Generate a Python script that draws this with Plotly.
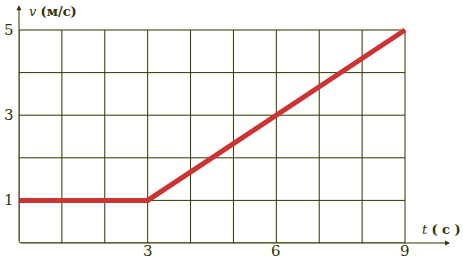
import plotly.graph_objects as go

# data
t_vals = [0, 3, 9]
v_vals = [1, 1, 5]
x_grid = [0, 1, 2, 3, 4, 5, 6, 7, 8, 9]
y_grid = [0, 1, 2, 3, 4, 5]
x_ticks = [3, 6, 9]
y_ticks = [1, 3, 5]

W, H = 463, 259
ml, mb = 19, 16
ux = (405 - 19) / 9.0
uy = (243 - 30) / 5.0
xmax = (W - ml) / ux
ymax = (H - mb) / uy

SERIF = "DejaVu Serif"
grid_col = "#333300"
fig = go.Figure()
shapes = []
for gx in x_grid:
    shapes.append(dict(type="line", xref="x", yref="y", x0=gx, x1=gx, y0=0, y1=5,
                       line=dict(color=grid_col, width=1), layer="below"))
for gy in y_grid:
    shapes.append(dict(type="line", xref="x", yref="y", x0=0, x1=9, y0=gy, y1=gy,
                       line=dict(color=grid_col, width=1), layer="below"))

fig.add_trace(go.Scatter(x=t_vals, y=v_vals, mode="lines",
                         line=dict(color="#cc3333", width=5), hoverinfo="skip"))

annotations = [
    dict(x=10.05, y=0, ax=0, ay=0, xref="x", yref="y", axref="x", ayref="y",
         showarrow=True, arrowhead=2, arrowsize=1, arrowwidth=1, arrowcolor=grid_col, text=""),
    dict(x=0, y=5.58, ax=0, ay=0, xref="x", yref="y", axref="x", ayref="y",
         showarrow=True, arrowhead=2, arrowsize=1, arrowwidth=1, arrowcolor=grid_col, text=""),
    dict(x=(27 - ml) / ux, y=(243 - 11) / uy, xref="x", yref="y", xanchor="left", yanchor="middle",
         text="<i>v</i> <b>(м/с)</b>", showarrow=False,
         font=dict(family=SERIF, size=13, color="#333300")),
    dict(x=(420 - ml) / ux, y=(243 - 229) / uy, xref="x", yref="y", xanchor="left", yanchor="middle",
         text="<i>t</i> <b>( с )</b>", showarrow=False,
         font=dict(family=SERIF, size=13, color="#333300")),
]
for xt in x_ticks:
    annotations.append(dict(x=xt, y=0, xref="x", yref="y", yanchor="top", yshift=3,
                            text=str(xt), showarrow=False,
                            font=dict(family=SERIF, size=15, color="#333300")))
for yt in y_ticks:
    annotations.append(dict(x=0, y=yt, xref="x", yref="y", xanchor="right", xshift=-3,
                            text=str(yt), showarrow=False,
                            font=dict(family=SERIF, size=15, color="#333300")))

fig.update_layout(
    width=W, height=H,
    margin=dict(l=ml, r=0, t=0, b=mb),
    paper_bgcolor="white", plot_bgcolor="white",
    showlegend=False,
    font=dict(family=SERIF),
    shapes=shapes,
    annotations=annotations,
    xaxis=dict(range=[0, xmax], showgrid=False, zeroline=False, showticklabels=False,
               showline=False, ticks="", fixedrange=True),
    yaxis=dict(range=[0, ymax], showgrid=False, zeroline=False, showticklabels=False,
               showline=False, ticks="", fixedrange=True),
)
fig.write_html("out.html", config={"displayModeBar": False})
